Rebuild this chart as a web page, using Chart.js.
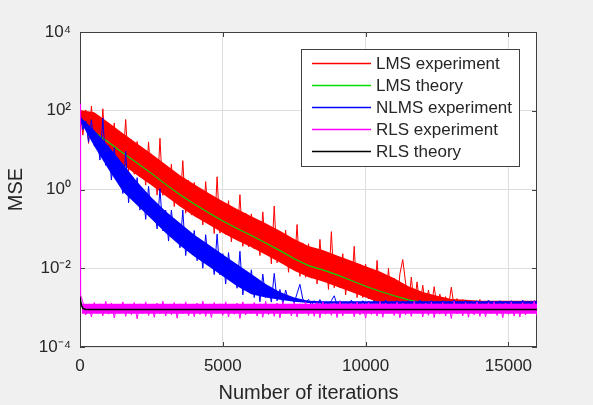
<!DOCTYPE html>
<html>
<head>
<meta charset="utf-8">
<script src="https://cdn.jsdelivr.net/npm/chart.js@4.4.1/dist/chart.umd.min.js"></script>
<style>
  html, body { margin: 0; padding: 0; background: #f0f0f0; }
  #grafico { display: block; }
</style>
</head>
<body>
<canvas id="grafico" width="593" height="405"></canvas>
<script>
// Iteration grid used by the noisy learning curves (one sample every 100 iterations)
const iterGrid = Array.from({ length: 161 }, (_, i) => i * 100);

// Coarser grid (every 500 iterations) for theory curves and noise cores
const iterCoarse = [
  0, 500, 1000, 1500, 2000, 2500, 3000, 3500, 4000, 4500, 5000,
  5500, 6000, 6500, 7000, 7500, 8000, 8500, 9000, 9500, 10000,
  10500, 11000, 11500, 12000, 12500, 13000, 13500, 14000, 14500, 15000,
  15500, 16000
];

// Axis ticks
const xTicks = [0, 5000, 10000, 15000];
const yTicks = [1e-4, 1e-2, 1, 1e2, 1e4];
const yTickText = ["10\u207B\u2074", "10\u207B\u00B2", "10\u2070", "10\u00B2", "10\u2074"];

// LMS experiment (red), on iterGrid
const lmsExpMse = [
  126, 24, 105, 14.8, 132, 16.2, 58, 8.1, 112, 7.9,
  45, 7.1, 49, 4.2, 24, 4.5, 60, 2.8, 18.6, 2.45,
  16.6, 2.1, 9.1, 1.29, 16.2, 1.45, 5.1, 0.72, 20, 0.71,
  4.0, 0.63, 4.4, 0.37, 2.1, 0.40, 5.4, 0.25, 1.7, 0.224,
  1.51, 0.195, 0.87, 0.126, 1.58, 0.145, 0.52, 0.076, 2.1, 0.078,
  0.45, 0.072, 0.52, 0.047, 0.28, 0.054, 0.74, 0.036, 0.25, 0.035,
  0.24, 0.031, 0.141, 0.021, 0.27, 0.0245, 0.089, 0.0129, 0.38, 0.0138,
  0.079, 0.0129, 0.093, 0.0079, 0.048, 0.0091, 0.129, 0.0062, 0.044, 0.0059,
  0.042, 0.0056, 0.027, 0.004, 0.054, 0.0051, 0.019, 0.0029, 0.085, 0.0032,
  0.019, 0.0032, 0.0234, 0.0021, 0.0132, 0.0026, 0.036, 0.0018, 0.0129, 0.0018,
  0.0126, 0.00166, 0.0079, 0.00117, 0.0158, 0.00148, 0.0056, 0.00112, 0.01, 0.00112,
  0.0056, 0.00115, 0.0072, 0.0166, 0.0042, 0.0011, 0.006, 0.00108, 0.0045, 0.0011,
  0.0037, 0.00105, 0.0028, 0.001, 0.0034, 0.00105, 0.0022, 0.001, 0.0019, 0.00105,
  0.0033, 0.001, 0.0017, 0.00097, 0.0016, 0.001, 0.0015, 0.00095, 0.0014, 0.001,
  0.0016, 0.00095, 0.0013, 0.001, 0.0014, 0.00097, 0.0013, 0.001, 0.0013, 0.00095,
  0.0014, 0.001, 0.0013, 0.00097, 0.0012, 0.001, 0.0013, 0.00096, 0.0012, 0.001,
  0.0012
];
// dense core of the red noise, on iterCoarse
const lmsCoreLow = [
  60, 14.5, 7.9, 4.3, 2.3, 1.29, 0.68, 0.37, 0.21, 0.13, 0.079,
  0.051, 0.034, 0.022, 0.014, 0.0087, 0.0059, 0.0046, 0.0034, 0.0025, 0.0018,
  0.00132, 0.00112, 0.00107, 0.00107, 0.00107, 0.00107, 0.00107, 0.00107, 0.00107, 0.00107,
  0.00107, 0.00107
];
const lmsCoreHigh = [
  105, 91, 50, 27, 14.8, 8.1, 4.3, 2.3, 1.35, 0.81, 0.5,
  0.32, 0.21, 0.138, 0.089, 0.055, 0.037, 0.029, 0.021, 0.0155, 0.0112,
  0.0083, 0.0056, 0.0035, 0.0025, 0.002, 0.00166, 0.00158, 0.0015, 0.0015, 0.0015,
  0.0015, 0.0015
];

// LMS theory (green), on iterCoarse
const lmsTheoryMse = [
  54, 29, 15.8, 8.5, 4.7, 2.57, 1.35, 0.74, 0.43, 0.257, 0.158,
  0.102, 0.068, 0.044, 0.028, 0.0174, 0.0117, 0.0091, 0.0068, 0.0049, 0.0035,
  0.0026, 0.002, 0.00158, 0.00132, 0.00117, 0.0011, 0.00105, 0.00102, 0.001, 0.001,
  0.001, 0.001
];

// NLMS experiment (blue), on iterGrid
const nlmsExpMse = [
  100, 33, 55, 16, 59, 12.6, 20, 5.6, 65, 4.1,
  12.9, 1.74, 11.7, 1.86, 2.7, 0.79, 9.3, 0.46, 2.1, 0.51,
  2.0, 0.3, 0.91, 0.174, 1.2, 0.19, 0.37, 0.1, 1.05, 0.089,
  0.3, 0.049, 0.3, 0.062, 0.089, 0.033, 0.3, 0.021, 0.087, 0.0245,
  0.091, 0.0155, 0.048, 0.01, 0.071, 0.012, 0.0245, 0.0069, 0.074, 0.0068,
  0.0234, 0.004, 0.025, 0.0053, 0.0079, 0.0031, 0.027, 0.0021, 0.0085, 0.0026,
  0.0091, 0.0018, 0.0052, 0.0014, 0.0071, 0.0018, 0.0032, 0.00138, 0.0074, 0.00148,
  0.0029, 0.00126, 0.0028, 0.0015, 0.0018, 0.00132, 0.0023, 0.0039, 0.00166, 0.00132,
  16.2e-4, 11.5e-4, 15e-4, 11.8e-4, 16e-4, 11.5e-4, 14e-4, 12e-4, 15e-4, 20e-4,
  11.8e-4, 15e-4, 11.5e-4, 14e-4, 12e-4, 15.5e-4, 11.5e-4, 14e-4, 12e-4, 15e-4,
  11.5e-4, 14.5e-4, 12e-4, 15e-4, 11.8e-4, 14e-4, 11.5e-4, 15.5e-4, 12e-4, 14e-4,
  11.8e-4, 15e-4, 11.5e-4, 14.5e-4, 12e-4, 15e-4, 11.5e-4, 14e-4, 12e-4, 15.5e-4,
  11.5e-4, 14e-4, 12e-4, 15e-4, 11.8e-4, 14.5e-4, 11.5e-4, 15e-4, 12e-4, 14e-4,
  11.8e-4, 15.5e-4, 11.5e-4, 14e-4, 12e-4, 15e-4, 11.5e-4, 14.5e-4, 12e-4, 15e-4,
  11.5e-4, 14e-4, 12e-4, 15.5e-4, 11.8e-4, 14e-4, 11.5e-4, 15e-4, 12e-4, 14.5e-4,
  11.8e-4, 15e-4, 11.5e-4, 14e-4, 12e-4, 15.5e-4, 11.5e-4, 14e-4, 12e-4, 15e-4,
  13e-4
];
// dense core of the blue noise, on iterCoarse
const nlmsCoreLow = [
  56, 12.6, 3.2, 0.89, 0.4, 0.178, 0.079, 0.038, 0.02, 0.0112, 0.0063,
  0.0035, 0.0022, 0.0018, 0.00158, 0.0014, 0.00132, 0.00126, 0.00126, 0.00126, 0.00126,
  0.00126, 0.00126, 0.00126, 0.00126, 0.00126, 0.00126, 0.00126, 0.00126, 0.00126, 0.00126,
  0.00126, 0.00126
];
const nlmsCoreHigh = [
  71, 32, 12.6, 4.5, 1.58, 0.63, 0.28, 0.141, 0.071, 0.04, 0.0224,
  0.0126, 0.0071, 0.004, 0.0025, 0.0018, 0.0015, 0.00145, 0.00145, 0.00145, 0.00145,
  0.00145, 0.00145, 0.00145, 0.00145, 0.00145, 0.00145, 0.00145, 0.00145, 0.00145, 0.00145,
  0.00145, 0.00145
];

// RLS experiment (magenta): fast drop at the start, then noise around the floor
const rlsHeadIter = [0, 10, 30];
const rlsHeadMse = [150, 0.012, 0.0021];
const rlsTailMse = [
  14e-4, 6.5e-4, 12e-4, 5.8e-4, 13.5e-4, 7.2e-4, 12.5e-4, 6.2e-4, 14.5e-4, 6.8e-4,
  13e-4, 5.5e-4, 12e-4, 7e-4, 14e-4, 6e-4, 11.5e-4, 6.6e-4, 13.5e-4, 5.2e-4,
  12.5e-4, 7.1e-4, 14e-4, 6.3e-4, 12e-4, 5.7e-4, 13e-4, 6.9e-4, 14.5e-4, 6.1e-4,
  12e-4, 6.6e-4, 13.5e-4, 5.4e-4, 12.5e-4, 7e-4, 14e-4, 6.2e-4, 12e-4, 5.9e-4,
  13e-4, 6.7e-4, 14.5e-4, 6e-4, 12e-4, 5.6e-4, 13.5e-4, 7.2e-4, 12.5e-4, 6.4e-4,
  14e-4, 5.8e-4, 12e-4, 6.8e-4, 13e-4, 5.3e-4, 14e-4, 6.5e-4, 12e-4, 7e-4,
  13.5e-4, 6.1e-4, 12.5e-4, 5.7e-4, 14.5e-4, 6.6e-4, 12e-4, 6e-4, 13e-4, 5.5e-4,
  14e-4, 6.9e-4, 12e-4, 6.2e-4, 13.5e-4, 5.8e-4, 12.5e-4, 7.1e-4, 14e-4, 6.3e-4,
  12.5e-4, 6e-4, 13.5e-4, 5.5e-4, 14e-4, 6.8e-4, 12e-4, 6.4e-4, 13e-4, 5.6e-4,
  14.5e-4, 6.2e-4, 12.5e-4, 7e-4, 13e-4, 5.9e-4, 14e-4, 6.5e-4, 12e-4, 5.4e-4,
  13.5e-4, 6.7e-4, 12e-4, 6.1e-4, 14.5e-4, 5.7e-4, 13e-4, 6.9e-4, 12.5e-4, 6.3e-4,
  14e-4, 5.5e-4, 13e-4, 6.6e-4, 12e-4, 6e-4, 14.5e-4, 7.2e-4, 12.5e-4, 5.8e-4,
  13e-4, 6.4e-4, 14e-4, 5.6e-4, 12.5e-4, 6.8e-4, 13.5e-4, 6.1e-4, 12e-4, 5.3e-4,
  14.5e-4, 6.9e-4, 12e-4, 6.2e-4, 13.5e-4, 5.7e-4, 12.5e-4, 6.6e-4, 14e-4, 6e-4,
  12e-4, 5.9e-4, 13.5e-4, 7e-4, 14e-4, 6.3e-4, 12.5e-4, 5.5e-4, 13e-4, 6.7e-4,
  14e-4, 6.1e-4, 12.5e-4, 5.8e-4, 13.5e-4, 6.5e-4, 12e-4, 7.1e-4, 14.5e-4, 6.2e-4
];
// dense core of the magenta noise
const rlsCoreIter = [60, 16000];
const rlsCoreLow = [7e-4, 7e-4];
const rlsCoreHigh = [1.25e-3, 1.25e-3];

// RLS theory (black)
const rlsTheoryIter = [0, 50, 100, 200, 16000];
const rlsTheoryMse = [1.8e-3, 1.15e-3, 9.6e-4, 9e-4, 9e-4];

const FONTE = "'Liberation Sans', Arial, Helvetica, sans-serif";
const COR_TEXTO = "#262626";

function pares(xs, ys) {
  return ys.map((y, i) => ({ x: xs[i], y }));
}

// Background, box with inward ticks, legend inside the axes
const molduraPlugin = {
  id: "moldura",
  beforeDraw(chart) {
    const { ctx, chartArea: a } = chart;
    ctx.save();
    ctx.fillStyle = "#f0f0f0";
    ctx.fillRect(0, 0, chart.width, chart.height);
    ctx.fillStyle = "#ffffff";
    ctx.fillRect(a.left, a.top, a.right - a.left, a.bottom - a.top);
    ctx.restore();
  },
  beforeDatasetsDraw(chart) {
    const { ctx, chartArea: a, scales } = chart;
    ctx.save();
    ctx.strokeStyle = "#404040";
    ctx.lineWidth = 1;
    ctx.strokeRect(a.left + 0.5, a.top + 0.5, a.right - a.left - 1, a.bottom - a.top - 1);
    ctx.beginPath();
    xTicks.forEach(v => {
      const px = Math.round(scales.x.getPixelForValue(v)) + 0.5;
      ctx.moveTo(px, a.bottom); ctx.lineTo(px, a.bottom - 5);
      ctx.moveTo(px, a.top); ctx.lineTo(px, a.top + 5);
    });
    yTicks.forEach(v => {
      const py = Math.round(scales.y.getPixelForValue(v)) + 0.5;
      ctx.moveTo(a.left, py); ctx.lineTo(a.left + 5, py);
      ctx.moveTo(a.right, py); ctx.lineTo(a.right - 5, py);
    });
    ctx.stroke();
    ctx.restore();
  },
  afterDraw(chart) {
    const ctx = chart.ctx;
    const caixa = { x: 301, y: 49, w: 218, h: 117 };
    ctx.save();
    ctx.fillStyle = "#ffffff";
    ctx.fillRect(caixa.x, caixa.y, caixa.w, caixa.h);
    ctx.strokeStyle = "#404040";
    ctx.lineWidth = 1;
    ctx.strokeRect(caixa.x + 0.5, caixa.y + 0.5, caixa.w, caixa.h);
    ctx.font = "17px " + FONTE;
    ctx.textBaseline = "middle";
    ctx.fillStyle = COR_TEXTO;
    chart.data.datasets.filter(ds => !ds.nucleo).forEach((ds, i) => {
      const y = 63.5 + i * 22;
      ctx.strokeStyle = ds.borderColor;
      ctx.lineWidth = 1.5;
      ctx.beginPath();
      ctx.moveTo(312, y);
      ctx.lineTo(371, y);
      ctx.stroke();
      ctx.fillText(ds.label, 376, y + 1);
    });
    ctx.restore();
  }
};

const linha = (label, data, cor, largura, ordem) => ({
  label,
  data,
  borderColor: cor,
  backgroundColor: cor,
  borderWidth: largura,
  pointRadius: 0,
  fill: false,
  order: ordem
});

// dense noise core: lower edge (invisible) + upper edge filled down to it
const nucleo = (data, cor, ordem, alvo) => ({
  label: "",
  nucleo: true,
  data,
  borderColor: cor,
  backgroundColor: cor,
  borderWidth: 0,
  pointRadius: 0,
  fill: alvo === undefined ? false : { target: alvo },
  order: ordem
});

new Chart(document.getElementById("grafico"), {
  type: "line",
  data: {
    datasets: [
      linha("LMS experiment", pares(iterGrid, lmsExpMse), "#ff0000", 1, 4),
      linha("LMS theory", pares(iterCoarse, lmsTheoryMse), "#00dd00", 1.2, 3),
      linha("NLMS experiment", pares(iterGrid, nlmsExpMse), "#0000ff", 1, 2),
      linha("RLS experiment", pares(rlsHeadIter.concat(iterGrid.slice(1)), rlsHeadMse.concat(rlsTailMse)), "#ff00ff", 1, 1),
      linha("RLS theory", pares(rlsTheoryIter, rlsTheoryMse), "#000000", 1.6, 0),
      nucleo(pares(iterCoarse, lmsCoreLow), "#ff0000", 4.5),
      nucleo(pares(iterCoarse, lmsCoreHigh), "#ff0000", 4.5, 5),
      nucleo(pares(iterCoarse, nlmsCoreLow), "#0000ff", 2.5),
      nucleo(pares(iterCoarse, nlmsCoreHigh), "#0000ff", 2.5, 7),
      nucleo(pares(rlsCoreIter, rlsCoreLow), "#ff00ff", 1.5),
      nucleo(pares(rlsCoreIter, rlsCoreHigh), "#ff00ff", 1.5, 9)
    ]
  },
  options: {
    responsive: false,
    animation: false,
    layout: { padding: { left: 0, top: 32, right: 56, bottom: 0 } },
    plugins: { legend: { display: false }, tooltip: { enabled: false } },
    scales: {
      x: {
        type: "linear",
        min: 0,
        max: 16000,
        afterBuildTicks: s => { s.ticks = xTicks.map(v => ({ value: v })); },
        afterFit: s => { s.height = 58; },
        grid: { color: "#dedede", drawTicks: false },
        border: { display: false },
        ticks: {
          padding: 9,
          autoSkip: false,
          maxRotation: 0,
          color: COR_TEXTO,
          font: { family: FONTE, size: 17 },
          callback: v => String(v)
        },
        title: {
          display: true,
          text: "Number of iterations",
          color: COR_TEXTO,
          font: { family: FONTE, size: 20 },
          padding: { top: 0, bottom: 0 }
        }
      },
      y: {
        type: "logarithmic",
        min: 1e-4,
        max: 1e4,
        afterBuildTicks: s => { s.ticks = yTicks.map(v => ({ value: v })); },
        afterFit: s => { s.width = 80; },
        grid: { color: "#dedede", drawTicks: false },
        border: { display: false },
        ticks: {
          padding: 9,
          autoSkip: false,
          color: COR_TEXTO,
          font: { family: FONTE, size: 17 },
          callback: (v, i) => yTickText[i]
        },
        title: {
          display: true,
          text: "MSE",
          color: COR_TEXTO,
          font: { family: FONTE, size: 20 },
          padding: { top: 4, bottom: 0 }
        }
      }
    }
  },
  plugins: [molduraPlugin]
});
</script>
</body>
</html>
